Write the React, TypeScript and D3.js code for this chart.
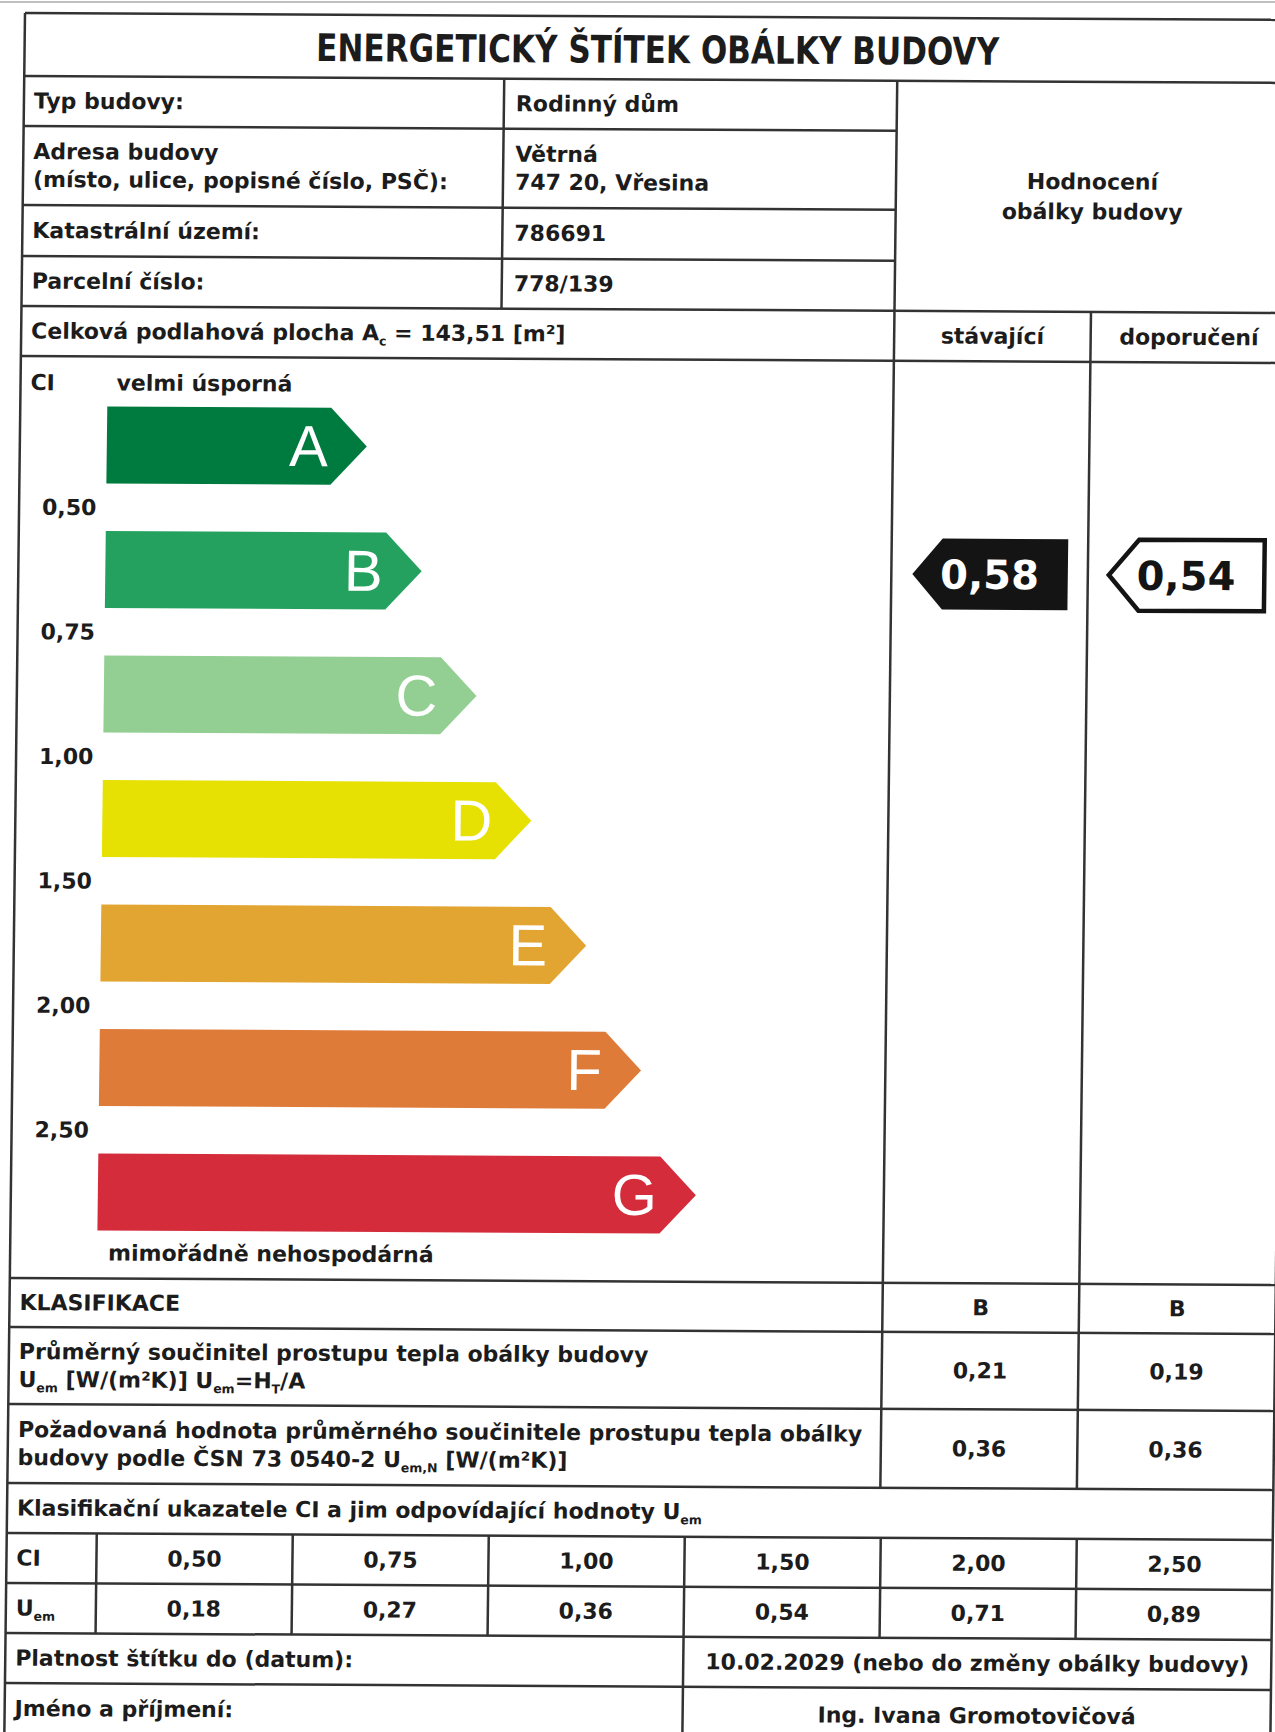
import { useEffect, useRef } from "react";
import * as d3 from "d3";

const title = "ENERGETICKÝ ŠTÍTEK OBÁLKY BUDOVY";
const infoLabels = [
  ["Typ budovy:"],
  ["Adresa budovy", "(místo, ulice, popisné číslo, PSČ):"],
  ["Katastrální území:"],
  ["Parcelní číslo:"],
];
const infoValues = [["Rodinný dům"], ["Větrná", "747 20, Vřesina"], ["786691"], ["778/139"]];
const floorArea = 143.51;
const classes = ["A", "B", "C", "D", "E", "F", "G"];
const ciThresholds = [0.5, 0.75, 1.0, 1.5, 2.0, 2.5];
const uemThresholds = [0.18, 0.27, 0.36, 0.54, 0.71, 0.89];
const ratingColumns = ["stávající", "doporučení"];
const ciRatings = [0.58, 0.54];
const uemAverage = [0.21, 0.19];
const uemRequired = [0.36, 0.36];
const validUntil = "10.02.2029 (nebo do změny obálky budovy)";
const assessor = "Ing. Ivana Gromotovičová";

const classColors = ["#007b3f", "#24a15e", "#93cf92", "#e6e102", "#e2a531", "#df7b38", "#d42c3b"];

const FONT = "'DejaVu Sans', Verdana, sans-serif";
const INK = "#1c1c1c";
const LINE = "#333";

type Seg = [string, ("sub" | "")?];

const fmt = (v: number) => d3.format(".2f")(v).replace(".", ",");

export default function App() {
  const svgRef = useRef<SVGSVGElement | null>(null);

  useEffect(() => {
    if (!svgRef.current) return;
    const svg = d3.select(svgRef.current);
    svg.selectAll("*").remove();

    svg.append("rect").attr("width", 1275).attr("height", 1732).attr("fill", "#fff");
    // faint edge of the page above the form
    svg.append("line").attr("x1", 0).attr("x2", 1275).attr("y1", 2).attr("y2", 2)
      .attr("stroke", "#aaa").attr("stroke-width", 1.5);

    // the scan is slightly skewed
    const g = svg.append("g")
      .attr("transform", "translate(25,13) matrix(1,0.0055,-0.012,1,0,0)")
      .attr("font-family", FONT)
      .attr("font-weight", 700)
      .attr("fill", INK);

    const W = 1266;
    const xLabelDiv = 480;
    const xRating = 873;
    const fs = 22;

    const rich = (x: number, y: number, segs: Seg[], anchor = "start", size = fs) => {
      const t = g.append("text").attr("x", x).attr("y", y).attr("text-anchor", anchor).attr("font-size", size);
      let shift = 0;
      segs.forEach(([s, m]) => {
        const target = m === "sub" ? 5 : 0;
        t.append("tspan").attr("dy", target - shift).attr("font-size", m ? 12.5 : null).text(s);
        shift = target;
      });
      return t;
    };
    const text = (x: number, y: number, s: string, anchor = "start", size = fs) =>
      rich(x, y, [[s]], anchor, size);

    // scales
    const yBand = d3.scaleBand<string>().domain(classes).range([393, 1217]).paddingInner(0.3815).paddingOuter(0);
    const bw = yBand.bandwidth();
    const tipX = d3.scaleLinear().domain([0, classes.length - 1]).range([347, 685]);
    const color = d3.scaleOrdinal<string, string>().domain(classes).range(classColors);
    const classOf = d3.scaleThreshold<number, string>().domain(ciThresholds).range(classes);
    const rX = d3.scaleBand<string>().domain(ratingColumns).range([xRating, W]);
    const ciX = d3.scaleBand<string>().domain(ciThresholds.map(fmt)).range([90, W]);

    // class arrows
    const arrowLeft = 87;
    const depth = 36;
    classes.forEach((c, i) => {
      const top = yBand(c)!;
      const tip = tipX(i);
      const mid = top + bw / 2;
      g.append("path")
        .attr("d", `M${arrowLeft},${top}H${tip - depth}L${tip},${mid}L${tip - depth},${top + bw}H${arrowLeft}Z`)
        .attr("fill", color(c));
      g.append("text")
        .attr("x", tip - depth - 3)
        .attr("y", mid + 20)
        .attr("text-anchor", "end")
        .attr("font-family", "'Liberation Sans', Arial, sans-serif")
        .attr("font-weight", 400)
        .attr("font-size", 58)
        .attr("fill", "#fff")
        .text(c);
    });

    // CI thresholds between arrows
    ciThresholds.forEach((v, i) => {
      const y0 = yBand(classes[i])! + bw;
      const y1 = yBand(classes[i + 1])!;
      text(23, (y0 + y1) / 2 + 8, fmt(v));
    });

    // rating markers
    ratingColumns.forEach((col, j) => {
      const cls = classOf(ciRatings[j]);
      const yc = yBand(cls)! + bw / 2;
      const h = 71;
      const l = rX(col)! + 21;
      const r = rX(col)! + rX.bandwidth() - 20;
      const filled = j === 0;
      g.append("path")
        .attr("d", `M${l},${yc}L${l + 30},${yc - h / 2}H${r}V${yc + h / 2}H${l + 30}Z`)
        .attr("fill", filled ? "#141414" : "#fff")
        .attr("stroke", filled ? "none" : "#141414")
        .attr("stroke-width", filled ? 0 : 4.5)
        .attr("stroke-linejoin", "miter");
      g.append("text")
        .attr("x", rX(col)! + rX.bandwidth() / 2)
        .attr("y", yc + 14.5)
        .attr("text-anchor", "middle")
        .attr("font-size", 40)
        .attr("fill", filled ? "#fff" : "#141414")
        .text(fmt(ciRatings[j]));
    });

    // grid lines
    const hFull = [0, 63, 293, 343, 1265, 1314, 1391, 1470, 1520, 1570, 1620, 1670];
    const hLeft = [113, 192, 243];
    const lines: [number, number, number, number][] = [];
    hFull.forEach((y) => lines.push([0, y, W, y]));
    hLeft.forEach((y) => lines.push([0, y, xRating, y]));
    lines.push([0, 0, 0, 1725], [W, 0, W, 1725]);
    lines.push([xLabelDiv, 63, xLabelDiv, 293]);
    lines.push([xRating, 63, xRating, 1470]);
    lines.push([rX(ratingColumns[1])!, 293, rX(ratingColumns[1])!, 1470]);
    ciX.domain().forEach((d) => lines.push([ciX(d)!, 1520, ciX(d)!, 1620]));
    lines.push([ciX(fmt(ciThresholds[3]))!, 1620, ciX(fmt(ciThresholds[3]))!, 1725]);
    g.selectAll("line.grid")
      .data(lines)
      .join("line")
      .attr("class", "grid")
      .attr("x1", (d) => d[0])
      .attr("y1", (d) => d[1])
      .attr("x2", (d) => d[2])
      .attr("y2", (d) => d[3])
      .attr("stroke", LINE)
      .attr("stroke-width", 2.5);

    // title
    g.append("text")
      .attr("x", W / 2)
      .attr("y", 46.5)
      .attr("text-anchor", "middle")
      .attr("font-family", "'DejaVu Sans Condensed', 'DejaVu Sans', sans-serif")
      .attr("font-stretch", "condensed")
      .attr("font-size", 38)
      .attr("textLength", 683)
      .attr("lengthAdjust", "spacingAndGlyphs")
      .text(title);

    // building info
    const infoRows = [63, 113, 192, 243, 293];
    infoLabels.forEach((lab, i) => {
      const c = (infoRows[i] + infoRows[i + 1]) / 2;
      const off = (k: number, n: number) => c + 7.5 + (n === 1 ? 0 : k === 0 ? -14 : 14);
      lab.forEach((s, k) => text(10, off(k, lab.length), s));
      infoValues[i].forEach((s, k) => text(xLabelDiv + 12, off(k, infoValues[i].length), s));
    });
    text((xRating + W) / 2, 170.5, "Hodnocení", "middle");
    text((xRating + W) / 2, 200.5, "obálky budovy", "middle");

    rich(10, 325.5, [["Celková podlahová plocha A"], ["c", "sub"], [` = ${fmt(floorArea)} [m²]`]]);
    ratingColumns.forEach((col) => text(rX(col)! + rX.bandwidth() / 2, 325.5, col, "middle"));

    // scale captions
    text(10, 377, "CI");
    text(96, 377, "velmi úsporná");
    text(98, 1247, "mimořádně nehospodárná");

    // summary rows
    const cx = (col: string) => rX(col)! + rX.bandwidth() / 2;
    text(10, 1297, "KLASIFIKACE");
    ratingColumns.forEach((col, j) => text(cx(col), 1297, classOf(ciRatings[j]), "middle"));

    text(10, 1346, "Průměrný součinitel prostupu tepla obálky budovy");
    rich(10, 1374, [["U"], ["em", "sub"], [" [W/(m²K)] U"], ["em", "sub"], ["=H"], ["T", "sub"], ["/A"]]);
    ratingColumns.forEach((col, j) => text(cx(col), 1360, fmt(uemAverage[j]), "middle"));

    text(10, 1424, "Požadovaná hodnota průměrného součinitele prostupu tepla obálky");
    rich(10, 1452, [["budovy podle ČSN 73 0540-2 U"], ["em,N", "sub"], [" [W/(m²K)]"]]);
    ratingColumns.forEach((col, j) => text(cx(col), 1438, fmt(uemRequired[j]), "middle"));

    rich(10, 1502.5, [["Klasifikační ukazatele CI a jim odpovídající hodnoty U"], ["em", "sub"]]);

    text(10, 1552.5, "CI");
    rich(10, 1602.5, [["U"], ["em", "sub"]]);
    ciThresholds.forEach((v, i) => {
      const k = fmt(v);
      const x = ciX(k)! + ciX.bandwidth() / 2;
      text(x, 1552.5, k, "middle");
      text(x, 1602.5, fmt(uemThresholds[i]), "middle");
    });

    const xSplit = ciX(fmt(ciThresholds[3]))!;
    text(10, 1652.5, "Platnost štítku do (datum):");
    text((xSplit + W) / 2, 1652.5, validUntil, "middle");
    text(10, 1703, "Jméno a příjmení:");
    text((xSplit + W) / 2, 1705, assessor, "middle");
  }, []);

  return (
    <svg
      ref={svgRef}
      width={1275}
      height={1732}
      style={{ position: "absolute", left: 0, top: 0, display: "block" }}
    />
  );
}
